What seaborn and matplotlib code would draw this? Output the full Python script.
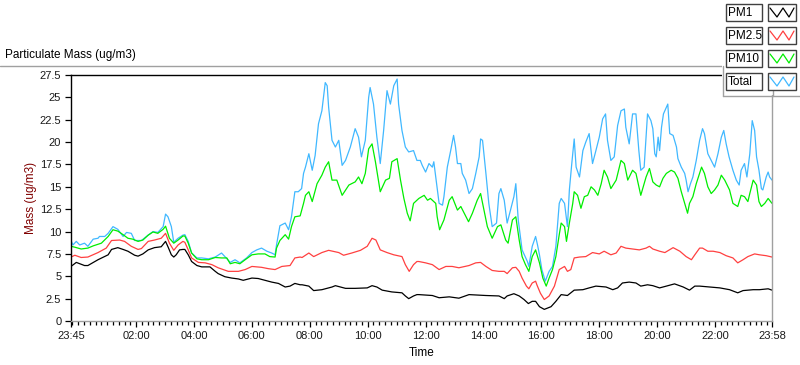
import numpy as np
import pandas as pd
import matplotlib
matplotlib.use("Agg")
import matplotlib.pyplot as plt
import seaborn as sns
from matplotlib.lines import Line2D
from matplotlib.patches import Rectangle

# ---------------- data (minutes elapsed since 23:45, mass in ug/m3) ----------------
series_names = ["PM1", "PM2.5", "PM10", "Total"]
series_colors = ["#000000", "#ff4040", "#00ee00", "#40b8ff"]

pm1_min = [0, 11, 28, 35, 56, 77, 84, 97, 108, 118, 132, 139, 149, 160, 173, 187, 196, 201, 208, 213, 218, 225, 232,
           236, 243, 250, 261, 271, 288, 299, 305, 319, 333, 347, 357, 375, 388, 402, 416, 430, 444, 454, 464, 475,
           479, 493, 503, 520, 541, 548, 569, 589, 614, 624, 634, 645, 665, 686, 693, 700, 710, 717,
           721, 749, 763, 784, 804, 825, 860, 887, 898, 904, 918, 929, 939, 948, 956, 963,
           971, 981, 995, 1005, 1016, 1029, 1043, 1061, 1074, 1088, 1109, 1123, 1133, 1143, 1157, 1171, 1181, 1195,
           1206, 1220, 1234, 1251, 1269, 1282, 1293, 1303, 1324, 1345, 1365, 1382, 1393, 1414, 1427, 1445, 1453]
pm1_val = [6.1, 6.55, 6.2, 6.2, 6.85, 7.4, 8.0, 8.2, 8.0, 7.8, 7.35, 7.25, 7.5, 7.95, 8.2, 8.3, 8.9, 8.3, 7.4, 7.15, 7.4, 7.95, 8.0,
           8.0, 7.4, 6.65, 6.2, 6.05, 6.05, 5.55, 5.3, 4.95, 4.8, 4.7, 4.55, 4.8, 4.75, 4.55, 4.35, 4.2, 3.8, 3.9, 4.2, 4.05,
           4.05, 3.9, 3.4, 3.5, 3.8, 3.95, 3.65, 3.65, 3.7, 3.95, 3.8, 3.45, 3.25, 3.15, 2.8, 2.5, 2.8, 2.95,
           2.95, 2.85, 2.6, 2.7, 2.55, 2.95, 2.85, 2.8, 2.5, 2.8, 3.05, 2.8, 2.4, 1.95, 2.2, 2.2,
           1.6, 1.3, 1.6, 2.2, 2.95, 2.85, 3.45, 3.5, 3.7, 3.9, 3.8, 3.5, 3.7, 4.25, 4.35, 4.25, 3.9, 4.05,
           3.95, 3.7, 3.9, 4.15, 3.8, 3.45, 3.9, 3.9, 3.8, 3.7, 3.5, 3.15, 3.4, 3.5, 3.5, 3.6, 3.45]

pm25_min = [0, 8, 21, 35, 56, 73, 84, 101, 111, 125, 139, 146, 160, 173, 187, 196, 204, 213, 222, 232,
            236, 243, 250, 264, 278, 292, 305, 326, 347, 361, 375, 395, 409, 423, 437, 454, 464, 475,
            479, 493, 503, 520, 534, 555, 565, 582, 600, 614, 624, 632, 641, 655, 669, 686, 693, 701, 710, 717,
            721, 735, 749, 763, 777, 790, 804, 825, 839, 849, 860, 873, 887, 898, 904, 915, 922, 929, 935, 944,
            949, 956, 963, 966, 973, 981, 991, 1002, 1012, 1023, 1029, 1036, 1043, 1054, 1067, 1081, 1095, 1105,
            1119, 1130, 1140, 1150, 1164, 1178, 1192, 1199,
            1206, 1220, 1231, 1248, 1262, 1275, 1286, 1293, 1303, 1309, 1320, 1331, 1345, 1358, 1372, 1382, 1393,
            1403, 1417, 1427, 1441, 1453]
pm25_val = [7.15, 7.35, 7.1, 7.15, 7.65, 8.15, 9.0, 9.05, 8.9, 8.35, 8.0, 8.1, 8.9, 9.05, 9.25, 9.8, 8.7, 7.9, 8.5, 8.9,
            8.8, 7.95, 7.05, 6.55, 6.5, 6.3, 5.95, 5.55, 5.55, 5.75, 6.1, 6.0, 5.85, 5.75, 6.1, 6.2, 7.05, 7.15,
            7.1, 7.6, 7.2, 7.65, 7.9, 7.65, 7.35, 7.6, 7.9, 8.35, 9.25, 9.05, 7.95, 7.65, 7.4, 7.2, 6.3, 5.55, 6.3, 6.65,
            6.65, 6.5, 6.3, 5.75, 6.1, 6.1, 5.95, 6.2, 6.5, 6.55, 6.1, 5.65, 5.55, 5.55, 5.3, 5.95, 6.0, 5.55, 4.8, 3.9,
            3.6, 4.25, 4.45, 4.0, 3.1, 2.4, 2.8, 3.9, 5.75, 6.1, 5.55, 5.75, 7.05, 7.15, 7.2, 7.65, 7.5, 7.8,
            7.4, 7.6, 8.35, 8.15, 8.05, 7.95, 8.15, 8.35,
            8.05, 7.8, 7.65, 8.2, 7.8, 7.2, 6.85, 7.4, 8.15, 8.15, 7.8, 7.8, 7.65, 7.3, 7.05, 6.5, 6.85,
            7.2, 7.5, 7.4, 7.3, 7.15]

pm10_min = [0, 8, 21, 35, 46, 63, 77, 87, 97, 108, 118, 128, 139, 149, 160, 170, 180, 191, 196, 204, 213, 222, 232,
            236, 243, 250, 261, 271, 285, 299, 312, 323, 330, 340, 350, 361, 375, 388, 402, 412, 423, 426, 433, 444,
            451, 457, 464, 475, 482,
            486, 493, 500, 510, 520, 527, 534, 541, 551, 562, 576, 589, 596, 603, 610, 617, 624, 631, 641, 652, 660,
            665, 676, 683, 690, 697, 703, 710, 721,
            732, 739, 745, 756, 759, 764, 773, 784, 790, 801, 808, 815, 824, 832, 842, 849, 856, 863, 873, 884, 891,
            901, 906, 915, 922, 929, 935, 942, 949, 956, 963,
            971, 978, 985, 991, 998, 1005, 1012, 1016, 1023, 1027, 1033, 1040, 1043, 1050, 1057, 1064, 1071, 1078,
            1085, 1092, 1099, 1105, 1112, 1119, 1130, 1140, 1147, 1154, 1164, 1171, 1181, 1192, 1199,
            1206, 1213, 1220, 1227, 1234, 1244, 1251, 1258, 1265, 1272, 1278, 1282, 1289, 1296, 1307, 1313, 1320,
            1327, 1334, 1341, 1348, 1355, 1365, 1372, 1382, 1389, 1396, 1403, 1407, 1414, 1421, 1426, 1431, 1438,
            1445, 1453]
pm10_val = [8.35, 8.25, 8.05, 8.15, 8.4, 8.7, 9.45, 10.2, 10.05, 9.65, 9.25, 9.15, 8.9, 9.05, 9.6, 9.95, 9.8, 10.25, 10.6, 9.25, 8.7, 9.05, 9.5,
            9.5, 8.7, 7.6, 6.95, 6.85, 6.85, 7.1, 7.05, 7.05, 6.4, 6.55, 6.4, 6.85, 7.4, 7.5, 7.5, 7.2, 7.15, 8.15, 9.0, 9.65,
            9.15, 10.55, 11.65, 11.75, 13.15,
            14.05, 14.45, 13.35, 15.35, 16.3, 17.2, 17.8, 15.75, 15.75, 14.05, 15.2, 15.55, 16.1, 15.35, 16.5, 19.25, 19.8, 17.8, 14.45, 15.75, 15.95,
            17.8, 18.15, 15.75, 13.7, 12.05, 11.2, 13.15, 13.7,
            14.05, 13.5, 13.7, 13.15, 11.65, 10.2, 11.3, 13.5, 13.9, 12.4, 12.8, 12.05, 11.1, 12.05, 13.5, 14.25, 12.4, 10.55, 9.25, 10.55, 10.75,
            9.05, 8.7, 11.3, 11.65, 9.05, 7.2, 6.3, 5.55, 7.2, 7.95,
            6.5, 4.8, 3.9, 4.8, 5.75, 7.2, 9.65, 10.95, 10.55, 8.9, 10.95, 13.15, 14.45, 14.05, 12.6, 13.9, 14.05, 15.0,
            14.65, 14.05, 15.35, 16.85, 16.1, 14.8, 15.75, 17.95, 17.6, 15.75, 16.85, 16.5, 14.05, 16.1, 17.05,
            15.55, 15.2, 15.0, 15.95, 16.5, 16.85, 16.65, 15.95, 14.45, 13.15, 12.05, 13.15, 13.9, 15.35, 17.2, 16.5, 15.0,
            14.25, 14.65, 15.2, 16.3, 15.75, 14.65, 13.15, 12.8, 14.05, 13.9, 13.35, 14.25, 15.75, 15.2, 13.35, 12.8, 13.15,
            13.7, 13.15]

total_min = [0, 4, 11, 18, 28, 35, 46, 56, 59, 70, 77, 87, 97, 108, 115, 125, 132, 146, 160, 170, 180, 191, 196, 201,
             208, 213, 222, 232,
             236, 243, 250, 261, 271, 285, 299, 312, 319, 330, 340, 350, 364, 375, 385, 395, 406, 416, 423, 426, 433,
             444, 451, 457, 464, 471, 478, 482,
             486, 493, 500, 506, 513, 520, 527, 531, 534, 541, 548, 555, 562, 569, 579, 589, 596, 602, 610, 617, 620,
             627, 634, 641, 648, 655, 662, 669, 676, 679, 686, 693, 700, 710, 717, 724,
             728, 735, 742, 749, 752, 756, 763, 770, 773, 780, 787, 793, 797, 801, 808, 811, 818, 825, 832, 839, 846,
             849, 853, 860, 866, 873, 882, 887, 891, 898, 904, 911, 918, 922, 927, 935, 946, 949, 956, 963, 967,
             971, 976, 983, 991, 998, 1005, 1012, 1016, 1023, 1029, 1033, 1038, 1043, 1047, 1054, 1061, 1067, 1074,
             1081, 1088, 1095, 1102, 1108, 1112, 1119, 1126, 1133, 1140, 1147, 1150, 1157, 1164, 1171, 1177, 1181,
             1188, 1195, 1202,
             1206, 1210, 1213, 1217, 1220, 1224, 1228, 1234, 1237, 1241, 1248, 1255, 1258, 1265, 1272, 1275, 1279,
             1284, 1289, 1296, 1303, 1309, 1313, 1320, 1327, 1334, 1341, 1348, 1353, 1358, 1364, 1369, 1372, 1379,
             1385, 1389, 1396, 1401, 1407, 1412, 1417, 1421, 1426, 1431, 1434, 1441, 1445, 1448, 1453]
total_val = [9.0, 8.5, 8.9, 8.5, 8.7, 8.35, 9.15, 9.25, 9.45, 9.45, 9.8, 10.55, 10.25, 9.45, 9.9, 9.8, 9.0, 9.0, 9.6, 10.0, 9.9, 10.55, 11.95, 11.65,
             10.55, 8.8, 9.25, 9.6,
             9.65, 8.9, 7.6, 7.05, 7.05, 6.95, 7.15, 7.6, 7.2, 6.55, 6.85, 6.5, 7.05, 7.65, 7.95, 8.15, 7.8, 7.6, 7.4, 8.5, 10.65,
             10.95, 10.2, 11.65, 14.45, 14.45, 14.8, 16.5,
             17.2, 18.7, 16.85, 18.5, 22.05, 23.5, 26.65, 26.3, 23.9, 20.2, 19.45, 20.2, 17.4, 17.95, 19.45, 21.5, 20.55, 18.35, 20.2, 25.0, 26.1,
             24.25, 20.55, 17.6, 21.3, 25.75, 24.25, 26.3, 27.05, 24.25, 21.3, 19.45, 18.9, 19.05, 17.95, 17.95,
             17.4, 16.65, 17.6, 17.2, 17.8, 16.1, 13.15, 12.95, 13.9, 17.2, 19.05, 20.75, 19.45, 17.6, 17.6, 16.5, 15.75, 14.25, 14.8, 16.5, 18.35,
             20.35, 20.2, 16.5, 13.15, 10.55, 10.95, 14.25, 14.8, 13.5, 10.95, 12.4, 13.9, 15.35, 11.3, 7.95, 6.65, 6.1, 8.35, 9.45, 8.5,
             7.4, 5.75, 4.45, 5.55, 6.1, 8.35, 13.15, 13.7, 13.15, 10.55, 14.65, 17.6, 20.35, 17.2, 16.1, 19.05, 20.0, 20.95,
             17.6, 19.05, 20.55, 22.6, 23.15, 20.2, 17.95, 18.35, 21.85, 23.5, 23.7, 21.65, 19.8, 23.15, 23.15, 19.05, 16.85,
             17.2, 23.15, 22.4,
             21.5, 18.7, 18.35, 20.55, 19.05, 21.65, 23.15, 23.9, 24.25, 20.95, 20.75, 19.45, 18.15, 17.2, 16.5, 15.75, 14.45,
             15.35, 16.1, 17.95, 20.2, 21.5, 20.95, 18.7, 17.95, 17.2, 18.7, 20.55, 21.3, 19.8, 18.35, 17.4, 16.85, 15.75,
             15.2, 16.85, 17.6, 16.1, 18.7, 22.4, 21.3, 18.35, 16.85, 14.8, 14.65, 16.1, 16.65, 16.1, 15.75]

x_tick_minutes = [0, 135, 255, 375, 495, 615, 735, 855, 975, 1095, 1215, 1335, 1453]
x_tick_labels = ["23:45", "02:00", "04:00", "06:00", "08:00", "10:00", "12:00", "14:00",
                 "16:00", "18:00", "20:00", "22:00", "23:58"]
y_ticks = [0, 2.5, 5, 7.5, 10, 12.5, 15, 17.5, 20, 22.5, 25, 27.5]
y_tick_labels = ["0", "2.5", "5", "7.5", "10", "12.5", "15", "17.5", "20", "22.5", "25", "27.5"]

chart_title = "Particulate Mass (ug/m3)"
x_title = "Time"
y_title = "Mass (ug/m3)"

# ---------------- build long table ----------------
series_minutes = [pm1_min, pm25_min, pm10_min, total_min]
series_values = [pm1_val, pm25_val, pm10_val, total_val]
frames = []
for name, m, v in zip(series_names, series_minutes, series_values):
    frames.append(pd.DataFrame({"Minutes": m, "Mass": v, "Series": name}))
df = pd.concat(frames, ignore_index=True)

# ---------------- style ----------------
sns.set_style("white")
plt.rcParams["font.family"] = ["Liberation Sans", "DejaVu Sans"]
plt.rcParams["xtick.bottom"] = True
plt.rcParams["ytick.left"] = True

W, H = 800, 365
fig = plt.figure(figsize=(W / 100, H / 100), dpi=100)
fig.patch.set_facecolor("white")

ax_l, ax_r, ax_t, ax_b = 71, 772, 75, 321
ax = fig.add_axes([ax_l / W, (H - ax_b) / H, (ax_r - ax_l) / W, (ax_b - ax_t) / H])
ax.set_facecolor("white")

# draw order: Total, PM10, PM2.5, PM1
for name in ["Total", "PM10", "PM2.5", "PM1"]:
    col = series_colors[series_names.index(name)]
    sns.lineplot(data=df[df["Series"] == name], x="Minutes", y="Mass", color=col,
                 linewidth=0.9, estimator=None, ax=ax, legend=False)

ax.set_xlim(0, 1453)
ax.set_ylim(0, 27.5)
ax.set_xticks(x_tick_minutes)
ax.set_xticklabels(x_tick_labels)
minor = [135 + 12 * k for k in range(-11, 111) if 0 <= 135 + 12 * k <= 1453]
ax.set_xticks(minor, minor=True)
ax.set_yticks(y_ticks)
ax.set_yticklabels(y_tick_labels)

ax.tick_params(axis="both", which="major", direction="out", length=4.5, width=0.9,
               color="#000000", labelsize=8, labelcolor="#1a1a1a", pad=2.5,
               left=True, bottom=True)
ax.tick_params(axis="x", which="minor", direction="out", length=3.2, width=0.9,
               color="#000000", bottom=True)

for side in ["left", "top"]:
    ax.spines[side].set_color("#000000")
    ax.spines[side].set_linewidth(1.0)
for side in ["right", "bottom"]:
    ax.spines[side].set_color("#a0a0a0")
    ax.spines[side].set_linewidth(1.0)

ax.set_xlabel(x_title, fontsize=8.5, color="#000000")
ax.xaxis.set_label_coords(0.5, -(353 - ax_b) / (ax_b - ax_t))
ax.xaxis.label.set_verticalalignment("center")
ax.set_ylabel(y_title, fontsize=8.5, color="#800000")
ax.yaxis.set_label_coords(-(ax_l - 31) / (ax_r - ax_l), 0.5)
ax.yaxis.label.set_verticalalignment("center")

fig.text(5 / W, 1 - 55 / H, chart_title, fontsize=8.5, va="center", ha="left", color="#000000")

# gray frame line under the title
fig.add_artist(Line2D([0, 722 / W], [1 - 65.5 / H] * 2, color="#a0a0a0", lw=1.0))

# ---------------- legend panel ----------------
def fx(px):
    return px / W

def fy(py):
    return 1 - py / H

fig.add_artist(Rectangle((fx(722), fy(95)), fx(800) - fx(722), fy(0) - fy(95),
                         facecolor="white", edgecolor="none", zorder=5))
fig.add_artist(Line2D([fx(722.5)] * 2, [fy(66), fy(95.5)], color="#a0a0a0", lw=1.0, zorder=6))
fig.add_artist(Line2D([fx(722.5), fx(800)], [fy(95.5)] * 2, color="#a0a0a0", lw=1.0, zorder=6))
fig.add_artist(Line2D([fx(772.5)] * 2, [fy(95.5), fy(ax_t)], color="#a0a0a0", lw=1.0, zorder=6))

for i, name in enumerate(series_names):
    top = 4 + i * 23
    fig.add_artist(Rectangle((fx(725.5), fy(top + 17)), fx(762) - fx(725.5), fy(top) - fy(top + 17),
                             facecolor="white", edgecolor="#404040", lw=1.0, zorder=7))
    fig.add_artist(Rectangle((fx(767.5), fy(top + 17)), fx(796) - fx(767.5), fy(top) - fy(top + 17),
                             facecolor="white", edgecolor="#404040", lw=1.0, zorder=7))
    fig.text(fx(728), fy(top + 9), name, fontsize=8.5, va="center", ha="left", color="#000000", zorder=8)
    zx = [770, 777, 783, 789, 794]
    zy = [top + 4, top + 13, top + 4, top + 13, top + 4]
    fig.add_artist(Line2D([fx(v) for v in zx], [fy(v) for v in zy],
                          color=series_colors[i], lw=0.9, zorder=8))

fig.savefig("out.png", dpi=100)
